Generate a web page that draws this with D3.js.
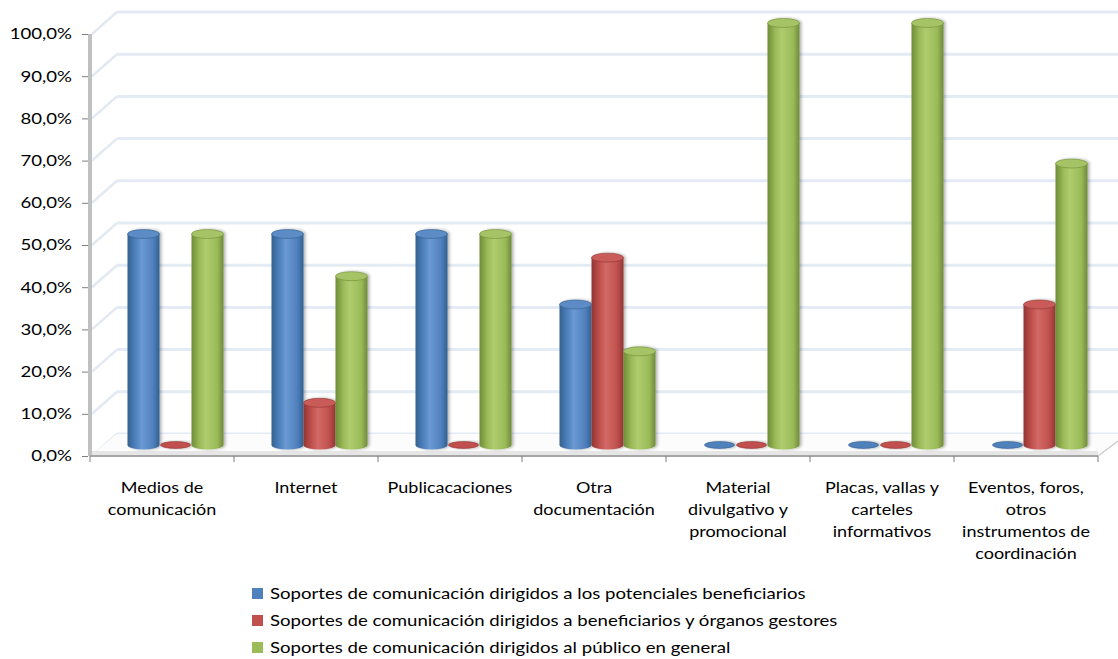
<!DOCTYPE html>
<html>
<head>
<meta charset="utf-8">
<script src="https://cdn.jsdelivr.net/npm/d3@7"></script>
<style>
  html, body { margin: 0; padding: 0; background: #fff; }
  svg { display: block; font-family: Lato, "Open Sans", sans-serif; }
</style>
</head>
<body>
<svg id="chart" width="1118" height="659"></svg>
<script>
// Categories (each entry holds the wrapped label lines)
const categories = [
  ["Medios de", "comunicación"],
  ["Internet"],
  ["Publicacaciones"],
  ["Otra", "documentación"],
  ["Material", "divulgativo y", "promocional"],
  ["Placas, vallas y", "carteles", "informativos"],
  ["Eventos, foros,", "otros", "instrumentos de", "coordinación"]
];
const seriesNames = [
  "Soportes de comunicación dirigidos a los potenciales beneficiarios",
  "Soportes de comunicación dirigidos a beneficiarios y órganos gestores",
  "Soportes de comunicación dirigidos al público en general"
];
// Shares per category, one array per series
const potenciales = [0.50, 0.50, 0.50, 0.333, 0, 0, 0];
const gestores    = [0, 0.10, 0, 0.444, 0, 0, 0.333];
const publico     = [0.50, 0.40, 0.50, 0.222, 1.00, 1.00, 0.667];
const yTicks = [0, 0.1, 0.2, 0.3, 0.4, 0.5, 0.6, 0.7, 0.8, 0.9, 1.0];

const seriesValues = [potenciales, gestores, publico];
const colors = [
  { base: "#4f81bd", dark: "#34608f", light: "#6b9ad3", top: "#5b8bc6" },
  { base: "#c0504d", dark: "#913634", light: "#d26a67", top: "#c95b58" },
  { base: "#9bbb59", dark: "#6f8c38", light: "#afcc6e", top: "#a6c466" }
];
const stretch = 1.2;   // wide text rendering

const svg = d3.select("#chart");
const left = 90, right = 1098, bottom = 456, topY = 34;
const depthX = 27, depthY = -22;       // back wall offset
const midX = depthX / 2, midY = depthY / 2;  // bar plane offset

const x = d3.scaleBand().domain(d3.range(categories.length)).range([left, right]);
const xs = d3.scaleBand().domain(d3.range(3)).range([0, x.bandwidth()])
  .paddingInner(0).paddingOuter(0.75);
const y = d3.scaleLinear().domain([0, 1]).range([bottom, topY]);

const defs = svg.append("defs");
colors.forEach((c, i) => {
  const g = defs.append("linearGradient").attr("id", "cyl" + i)
    .attr("x1", "0%").attr("x2", "100%").attr("y1", "0%").attr("y2", "0%");
  g.append("stop").attr("offset", "0%").attr("stop-color", c.dark);
  g.append("stop").attr("offset", "25%").attr("stop-color", c.base);
  g.append("stop").attr("offset", "45%").attr("stop-color", c.light);
  g.append("stop").attr("offset", "80%").attr("stop-color", c.base);
  g.append("stop").attr("offset", "100%").attr("stop-color", c.dark);
});
const sh = defs.append("filter").attr("id", "halo")
  .attr("x", "-30%").attr("y", "-10%").attr("width", "160%").attr("height", "120%");
sh.append("feGaussianBlur").attr("in", "SourceAlpha").attr("stdDeviation", 1.8).attr("result", "b");
sh.append("feOffset").attr("in", "b").attr("dx", 1.5).attr("dy", 0).attr("result", "o");
sh.append("feComponentTransfer").attr("in", "o").attr("result", "s")
  .append("feFuncA").attr("type", "linear").attr("slope", 0.3);
const m = sh.append("feMerge");
m.append("feMergeNode").attr("in", "s");
m.append("feMergeNode").attr("in", "SourceGraphic");

// Back wall gridlines and side wall diagonals
const grid = svg.append("g");
grid.selectAll("line.back").data(yTicks).join("line")
  .attr("x1", left + depthX).attr("x2", right + depthX)
  .attr("y1", d => y(d) + depthY).attr("y2", d => y(d) + depthY)
  .attr("stroke", "#e4ebf5").attr("stroke-width", 3);
grid.selectAll("line.side").data(yTicks).join("line")
  .attr("x1", left + 2).attr("x2", left + depthX)
  .attr("y1", d => y(d)).attr("y2", d => y(d) + depthY)
  .attr("stroke", "#e2e9f3").attr("stroke-width", 2.5);

// Floor slab
svg.append("path")
  .attr("d", `M${left},${bottom} L${left + depthX},${bottom + depthY} L${right + depthX},${bottom + depthY} L${right},${bottom} Z`)
  .attr("fill", "#fcfcfc");
svg.append("rect").attr("x", left).attr("y", bottom - 5).attr("width", right - left).attr("height", 5)
  .attr("fill", "#e6e6e6");
svg.append("line").attr("x1", right).attr("y1", bottom).attr("x2", 1118).attr("y2", bottom - 15)
  .attr("stroke", "#cfcfcf").attr("stroke-width", 1.5);

// Cylinders
const ry = 4.5;
const bars = svg.append("g");
seriesValues.forEach((vals, si) => {
  vals.forEach((v, ci) => {
    const bx = x(ci) + xs(si) + midX;
    const w = xs.bandwidth();
    const rx = w / 2;
    const yb = y(0) + midY;
    const yt = y(v) + midY;
    const g = bars.append("g").attr("filter", "url(#halo)");
    if (v > 0) {
      g.append("path")
        .attr("d", `M${bx},${yt} L${bx},${yb} A${rx},${ry} 0 0 0 ${bx + w},${yb} L${bx + w},${yt} Z`)
        .attr("fill", `url(#cyl${si})`);
      g.append("ellipse").attr("cx", bx + rx).attr("cy", yt).attr("rx", rx).attr("ry", ry)
        .attr("fill", colors[si].top).attr("stroke", colors[si].dark).attr("stroke-width", 0.6);
    } else {
      g.append("ellipse").attr("cx", bx + rx).attr("cy", yb).attr("rx", rx - 1).attr("ry", 3.4)
        .attr("fill", colors[si].base).attr("stroke", colors[si].dark).attr("stroke-width", 0.6);
    }
  });
});

// Y axis
svg.append("line").attr("x1", left).attr("x2", left).attr("y1", topY).attr("y2", bottom)
  .attr("stroke", "#c0c0c0").attr("stroke-width", 4);
const yAxis = d3.axisLeft(y).tickValues(yTicks).tickSize(6).tickPadding(10)
  .tickFormat(d => d3.format(".1f")(d * 100).replace(".", ",") + "%");
const ya = svg.append("g").attr("transform", `translate(${left - 2},0)`).call(yAxis);
ya.select(".domain").remove();
ya.selectAll(".tick line").attr("stroke", "#7f7f7f");
ya.selectAll(".tick text").attr("font-size", 15.5).attr("fill", "#000")
  .attr("font-family", "Lato, sans-serif")
  .attr("x", -16 / stretch)
  .attr("transform", `scale(${stretch},1)`);

// X axis
svg.append("line").attr("x1", left).attr("x2", right).attr("y1", bottom).attr("y2", bottom)
  .attr("stroke", "#a6a6a6").attr("stroke-width", 2);
svg.selectAll("line.xtick").data(d3.range(categories.length + 1)).join("line")
  .attr("x1", d => left + d * x.step()).attr("x2", d => left + d * x.step())
  .attr("y1", bottom).attr("y2", bottom + 6)
  .attr("stroke", "#7f7f7f").attr("stroke-width", 1);
const labels = svg.append("g").attr("font-size", 15).attr("fill", "#000").attr("text-anchor", "middle");
categories.forEach((lines, ci) => {
  const t = labels.append("text")
    .attr("transform", `translate(${x(ci) + x.bandwidth() / 2},493) scale(${stretch},1)`);
  lines.forEach((ln, li) => t.append("tspan").attr("x", 0)
    .attr("dy", li === 0 ? 0 : 22).text(ln));
});

// Legend
const lg = svg.append("g").attr("transform", "translate(252,593)");
seriesNames.forEach((name, i) => {
  const r = lg.append("g").attr("transform", `translate(0,${i * 27})`);
  r.append("rect").attr("x", 0).attr("y", -5).attr("width", 11).attr("height", 11).attr("fill", colors[i].base);
  r.append("text").attr("transform", `translate(18,6) scale(${stretch},1)`)
    .attr("font-size", 15.5).attr("fill", "#000").text(name);
});
</script>
</body>
</html>
